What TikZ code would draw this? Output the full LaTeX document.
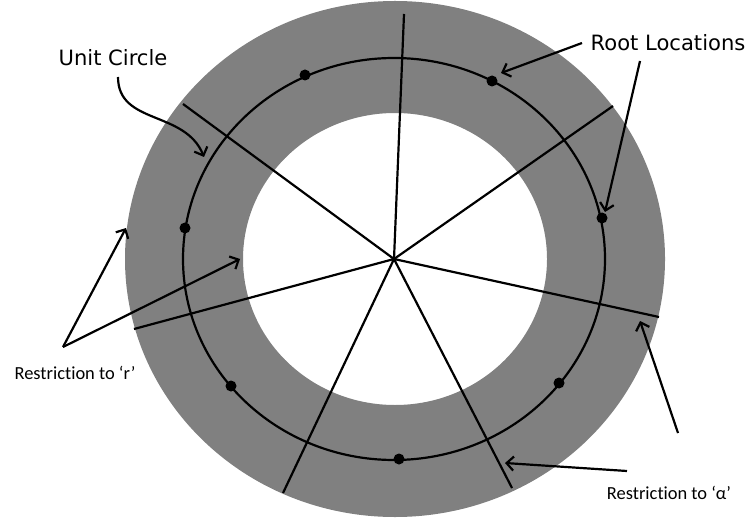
\documentclass[tikz,border=0pt]{standalone}
\usepackage{fontspec}
\setmainfont{DejaVu Sans}
\newfontfamily\calibfont[Ligatures=NoCommon]{Carlito}
\usetikzlibrary{arrows.meta}

\begin{document}
\begin{tikzpicture}[
  x=0.02cm, y=-0.02cm,
  every node/.style={inner sep=0pt, anchor=base},
  biglabel/.style={font=\fontsize{12}{14}\selectfont},
  smalllabel/.style={font=\calibfont\fontsize{10.5}{12}\selectfont},
  arrow/.style={-{Straight Barb[length=4pt,width=8pt]}, line width=1.25pt},
  spoke/.style={line width=1.25pt},
  root/.style={fill=black},
]

\useasboundingbox (0,0) rectangle (749,523);

\coordinate (O) at (394,259);

% grey band
\fill[gray, even odd rule] (395,259) ellipse [x radius=270, y radius=258]
                           (395,259) ellipse [x radius=152, y radius=146];

% unit circle
\draw[spoke] (O) ellipse [x radius=211, y radius=201];

% spokes
\foreach \px/\py in {404/14, 613/106, 659/317, 512/488, 283/493, 134/329, 183/104}
  \draw[spoke] (O) -- (\px,\py);

% roots
\foreach \px/\py in {305/75, 492/81, 602/218, 185/228, 231/386, 559/383, 399/459}
  \fill[root] (\px,\py) circle [radius=5.5];

% labels
\node[biglabel] (unitlbl) at (113,66) {Unit Circle};
\node[biglabel] (rootlbl) at (668,51) {Root Locations};
\node[smalllabel] (rlbl) at (75,379) {Restriction to ‘r’};
\node[smalllabel] (alphalbl) at (669,499) {Restriction to ‘α’};

% arrow ends
\coordinate (unittail) at (118,77);
\coordinate (unittip) at (204,157);
\coordinate (roottail1) at (582,43);
\coordinate (roottip1) at (501,73);
\coordinate (roottail2) at (640,61);
\coordinate (roottip2) at (605,212);
\coordinate (rvertex) at (63,347);
\coordinate (rtip1) at (126,228);
\coordinate (rtip2) at (240,259);
\coordinate (atail1) at (678,433);
\coordinate (atip1) at (640,321);
\coordinate (atail2) at (627,471);
\coordinate (atip2) at (505,463);

\draw[arrow] (unittail) .. controls (118,125) and (185,110) .. (unittip);
\draw[arrow] (roottail1) -- (roottip1);
\draw[arrow] (roottail2) -- (roottip2);
\draw[arrow] (rvertex) -- (rtip1);
\draw[arrow] (rvertex) -- (rtip2);
\draw[arrow] (atail1) -- (atip1);
\draw[arrow] (atail2) -- (atip2);

\end{tikzpicture}
\end{document}
